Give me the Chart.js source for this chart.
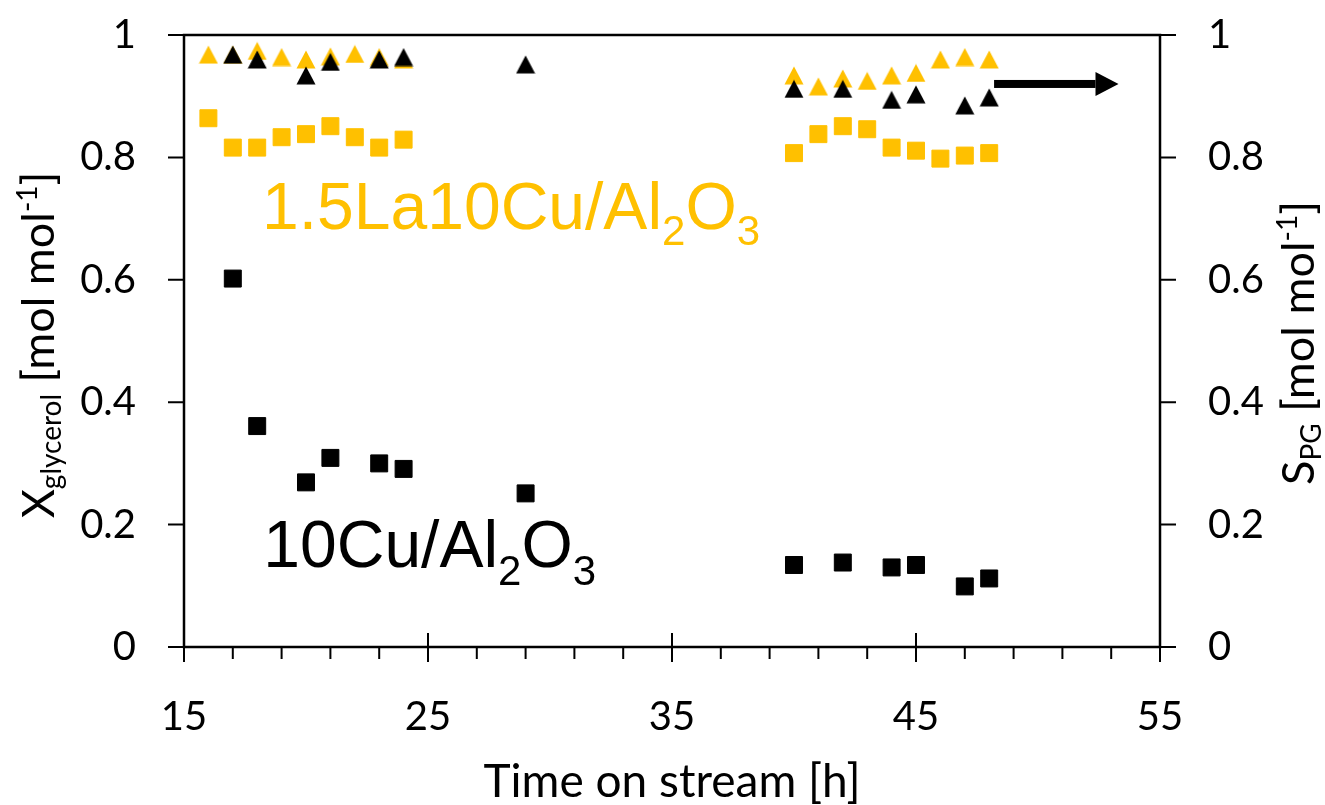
<!DOCTYPE html>
<html>
<head>
<meta charset="utf-8">
<script src="https://cdn.jsdelivr.net/npm/chart.js@4.4.0/dist/chart.umd.min.js"></script>
<style>
html, body { margin: 0; padding: 0; background: #fff; }
#wrap { width: 1325px; height: 805px; position: relative; }
</style>
</head>
<body>
<div id="wrap"><canvas id="grafico"></canvas></div>
<script>
// Tempo de reação (h) e valores
const tempoCu = [17, 18, 20, 21, 23, 24, 29, 40, 42, 44, 45, 47, 48];
const conversaoCu = [0.602, 0.361, 0.269, 0.309, 0.300, 0.291, 0.251, 0.134, 0.138, 0.130, 0.134, 0.099, 0.112];
const seletividadeCu = [0.968, 0.960, 0.934, 0.956, 0.960, 0.964, 0.952, 0.912, 0.912, 0.894, 0.903, 0.885, 0.898];

const tempoLa = [16, 17, 18, 19, 20, 21, 22, 23, 24, 40, 41, 42, 43, 44, 45, 46, 47, 48];
const conversaoLa = [0.864, 0.816, 0.816, 0.833, 0.838, 0.851, 0.833, 0.816, 0.829, 0.807, 0.838, 0.851, 0.846, 0.816, 0.811, 0.798, 0.803, 0.807];
const seletividadeLa = [0.968, 0.968, 0.974, 0.964, 0.960, 0.965, 0.969, 0.964, 0.960, 0.934, 0.916, 0.929, 0.925, 0.934, 0.938, 0.960, 0.964, 0.960];

const ticksX = [15, 25, 35, 45, 55];
const ticksY = [0, 0.2, 0.4, 0.6, 0.8, 1];

const AMARELO = '#FFC000';
const PRETO = '#000000';
const FONTE = 'Lato, "Open Sans", sans-serif';
const FONTE_ROTULO = '"Liberation Sans", Arial, sans-serif';

// Triângulo centrado na caixa (como no Excel)
function criarTriangulo(cor) {
    const c = document.createElement('canvas');
    c.width = 20; c.height = 19;
    const g = c.getContext('2d');
    g.fillStyle = cor;
    g.beginPath();
    g.moveTo(10, 0.5);
    g.lineTo(19.5, 18.5);
    g.lineTo(0.5, 18.5);
    g.closePath();
    g.fill();
    return c;
}

const pontos = (xs, ys) => xs.map((x, i) => ({ x, y: ys[i] }));

// Texto com subscritos/sobrescritos
function textoRico(ctx, partes, x, y, centro) {
    let larg = 0;
    partes.forEach(p => { ctx.font = p.f; larg += ctx.measureText(p.t).width; });
    let cx = centro ? x - larg / 2 : x;
    partes.forEach(p => {
        ctx.font = p.f;
        ctx.fillText(p.t, cx, y + (p.dy || 0));
        cx += ctx.measureText(p.t).width;
    });
}

const eixos = {
    id: 'eixos',
    beforeDatasetsDraw(chart) {
        const { ctx, chartArea: a, scales } = chart;
        const { x, y, y1 } = scales;
        ctx.save();
        ctx.strokeStyle = PRETO;
        ctx.lineWidth = 2.5;
        ctx.strokeRect(a.left, a.top, a.right - a.left, a.bottom - a.top);
        ctx.lineWidth = 2;
        ctx.beginPath();
        y.ticks.forEach(t => {
            const py = y.getPixelForValue(t.value);
            ctx.moveTo(a.left - 16, py); ctx.lineTo(a.left, py);
        });
        y1.ticks.forEach(t => {
            const py = y1.getPixelForValue(t.value);
            ctx.moveTo(a.right, py); ctx.lineTo(a.right + 16, py);
        });
        x.ticks.forEach(t => {
            const px = x.getPixelForValue(t.value);
            ctx.moveTo(px, a.bottom - 14); ctx.lineTo(px, a.bottom + 15);
        });
        // marcas menores a cada 2 h
        for (let v = x.min + 2; v < x.max; v += 2) {
            if ((v - x.min) % 10 === 0) continue;
            const px = x.getPixelForValue(v);
            ctx.moveTo(px, a.bottom); ctx.lineTo(px, a.bottom + 12);
        }
        ctx.stroke();
        ctx.restore();
    },
    afterDraw(chart) {
        const { ctx, chartArea: a, scales } = chart;
        const { x, y, y1 } = scales;
        ctx.save();
        ctx.textBaseline = 'alphabetic';

        // seta apontando para o eixo da direita
        const ay = y1.getPixelForValue(0.92);
        const x0 = x.getPixelForValue(48.2);
        const x1 = x.getPixelForValue(53.3);
        ctx.fillStyle = PRETO;
        ctx.fillRect(x0, ay - 4, x1 - 23 - x0, 8);
        ctx.beginPath();
        ctx.moveTo(x1 - 23, ay - 12);
        ctx.lineTo(x1, ay);
        ctx.lineTo(x1 - 23, ay + 12);
        ctx.closePath();
        ctx.fill();

        // rótulos dos catalisadores
        const grande = '66px ' + FONTE_ROTULO;
        const sub = '42px ' + FONTE_ROTULO;
        ctx.fillStyle = AMARELO;
        textoRico(ctx, [
            { t: '1.5La10Cu/Al', f: grande },
            { t: '2', f: sub, dy: 16 },
            { t: 'O', f: grande },
            { t: '3', f: sub, dy: 16 }
        ], x.getPixelForValue(18.2), y.getPixelForValue(0.683));
        ctx.fillStyle = PRETO;
        textoRico(ctx, [
            { t: '10Cu/Al', f: grande },
            { t: '2', f: sub, dy: 18 },
            { t: 'O', f: grande },
            { t: '3', f: sub, dy: 18 }
        ], x.getPixelForValue(18.25), y.getPixelForValue(0.131));

        // títulos dos eixos
        const tit = '45px ' + FONTE;
        const pequeno = '28px ' + FONTE;
        ctx.fillStyle = PRETO;
        textoRico(ctx, [{ t: 'Time on stream [h]', f: '46px ' + FONTE }], (a.left + a.right) / 2, 797, true);

        ctx.save();
        ctx.translate(54, (a.top + a.bottom) / 2 + 4);
        ctx.rotate(-Math.PI / 2);
        textoRico(ctx, [
            { t: 'X', f: tit },
            { t: 'glycerol', f: pequeno, dy: 7 },
            { t: ' [mol mol', f: tit },
            { t: '-1', f: pequeno, dy: -17 },
            { t: ']', f: tit }
        ], 0, 0, true);
        ctx.restore();

        ctx.save();
        ctx.translate(1314, (a.top + a.bottom) / 2 + 2);
        ctx.rotate(-Math.PI / 2);
        textoRico(ctx, [
            { t: 'S', f: tit },
            { t: 'PG', f: pequeno, dy: 7 },
            { t: ' [mol mol', f: tit },
            { t: '-1', f: pequeno, dy: -17 },
            { t: ']', f: tit }
        ], 0, 0, true);
        ctx.restore();

        ctx.restore();
    }
};

const fonteTicks = { family: FONTE, size: 40 };
const formatar = v => String(+v.toFixed(1));

// eixos verticais sem folga extra para os rótulos
const ajustarY = largura => s => { s.width = largura; s.paddingTop = 0; s.paddingBottom = 0; };

new Chart(document.getElementById('grafico'), {
    type: 'scatter',
    data: {
        datasets: [
            {
                label: 'S PG 10Cu/Al2O3',
                data: pontos(tempoCu, seletividadeCu),
                yAxisID: 'y1',
                pointStyle: criarTriangulo(PRETO)
            },
            {
                label: 'X glycerol 10Cu/Al2O3',
                data: pontos(tempoCu, conversaoCu),
                yAxisID: 'y',
                pointStyle: 'rect',
                pointRadius: 12,
                backgroundColor: PRETO,
                borderColor: PRETO,
                borderWidth: 1
            },
            {
                label: 'S PG 1.5La10Cu/Al2O3',
                data: pontos(tempoLa, seletividadeLa),
                yAxisID: 'y1',
                pointStyle: criarTriangulo(AMARELO)
            },
            {
                label: 'X glycerol 1.5La10Cu/Al2O3',
                data: pontos(tempoLa, conversaoLa),
                yAxisID: 'y',
                pointStyle: 'rect',
                pointRadius: 12,
                backgroundColor: AMARELO,
                borderColor: AMARELO,
                borderWidth: 1
            }
        ]
    },
    options: {
        responsive: true,
        maintainAspectRatio: false,
        animation: false,
        events: [],
        layout: { padding: { top: 35, left: 0, right: 0, bottom: 0 } },
        plugins: { legend: { display: false }, tooltip: { enabled: false } },
        scales: {
            x: {
                type: 'linear',
                min: 15, max: 55,
                afterBuildTicks: s => { s.ticks = ticksX.map(v => ({ value: v })); },
                afterFit: s => { s.height = 158; s.paddingLeft = 0; s.paddingRight = 0; },
                grid: { display: false, drawTicks: false },
                border: { display: false },
                ticks: { font: fonteTicks, color: PRETO, padding: 46, maxRotation: 0 }
            },
            y: {
                position: 'left',
                min: 0, max: 1,
                afterBuildTicks: s => { s.ticks = ticksY.map(v => ({ value: v })); },
                afterFit: ajustarY(184),
                grid: { display: false, drawTicks: false },
                border: { display: false },
                ticks: { font: fonteTicks, color: PRETO, padding: 48, callback: formatar }
            },
            y1: {
                position: 'right',
                min: 0, max: 1,
                afterBuildTicks: s => { s.ticks = ticksY.map(v => ({ value: v })); },
                afterFit: ajustarY(165),
                grid: { display: false, drawTicks: false },
                border: { display: false },
                ticks: { font: fonteTicks, color: PRETO, padding: 48, callback: formatar }
            }
        }
    },
    plugins: [eixos]
});
</script>
</body>
</html>
